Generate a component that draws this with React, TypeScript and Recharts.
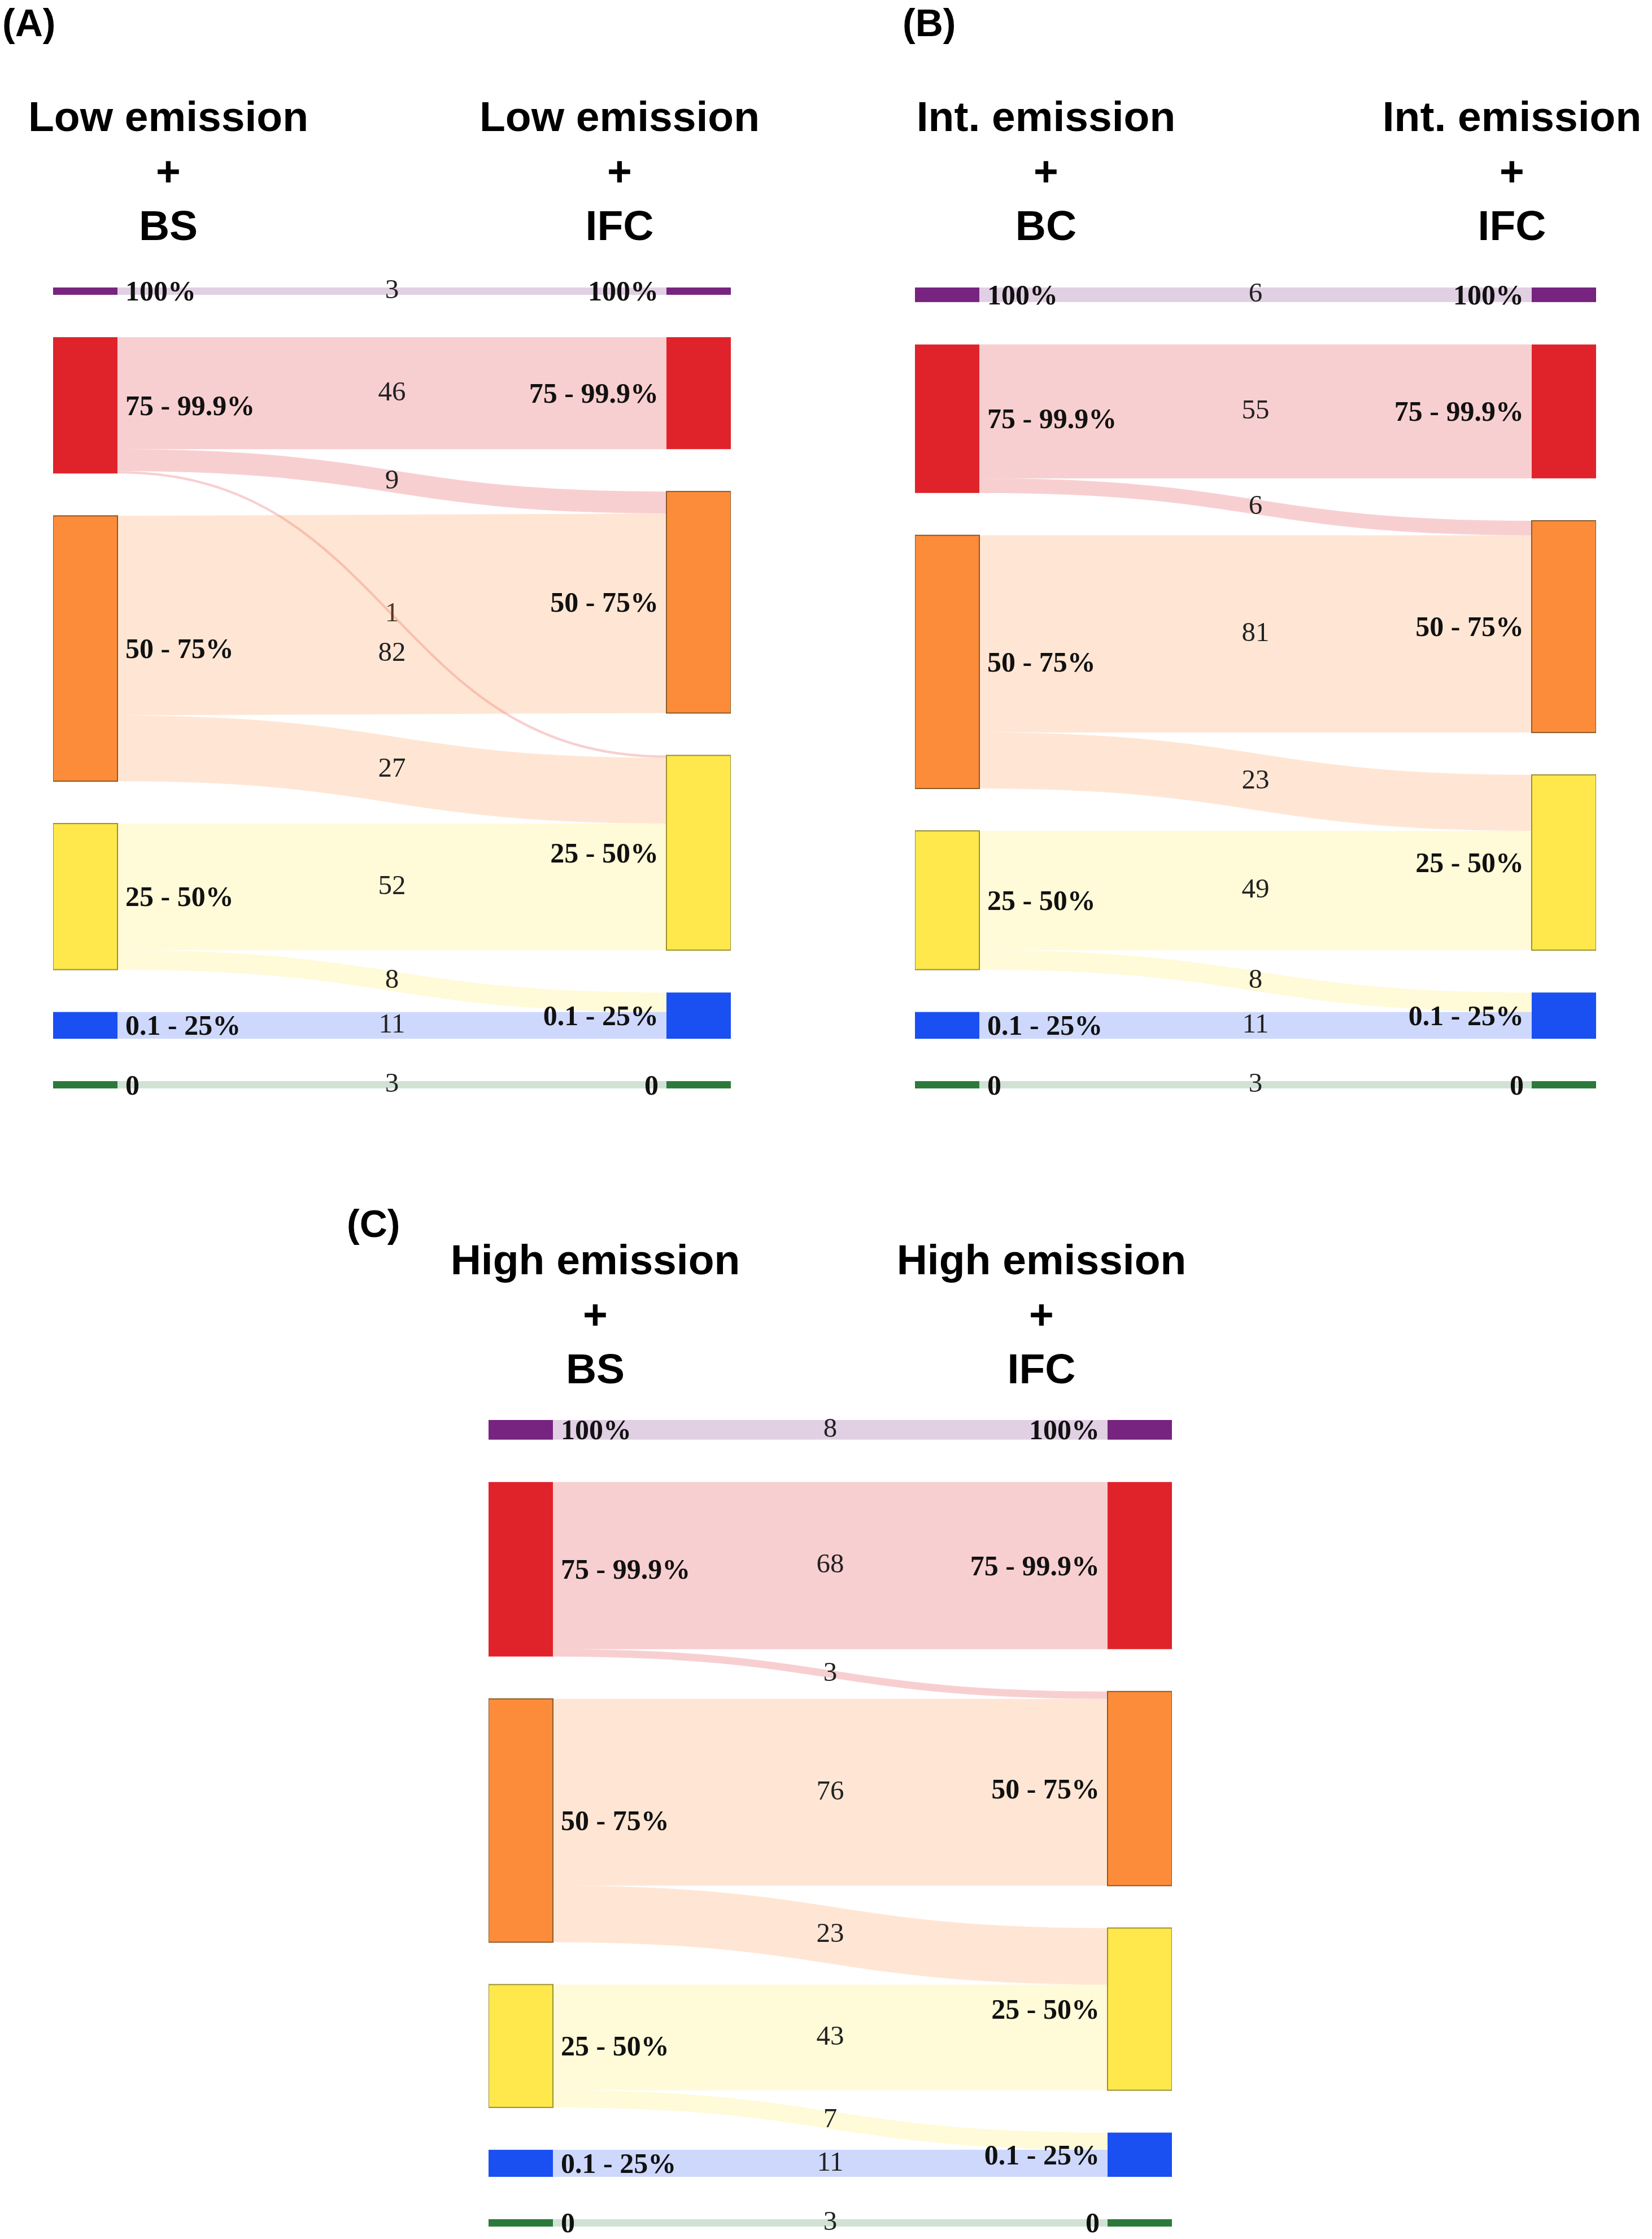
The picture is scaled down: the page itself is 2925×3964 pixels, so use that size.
import React from 'react';
import { Sankey } from 'recharts';

// emission-share classes, same order on both sides of every diagram
const CATEGORIES = ['100%', '75 - 99.9%', '50 - 75%', '25 - 50%', '0.1 - 25%', '0'];
const NODE_COLORS = ['#76247f', '#e0232b', '#fd8c3a', '#ffe84b', '#1a4ff2', '#2b7a3b'];
const NODE_BORDERS = ['none', 'none', '#8a5a2a', '#9a9030', 'none', 'none'];

// (A) Low emission: BS -> IFC
const FROM_A = [0, 1, 1, 1, 2, 2, 3, 3, 4, 5];
const TO_A = [0, 1, 2, 3, 2, 3, 3, 4, 4, 5];
const VALUES_A = [3, 46, 9, 1, 82, 27, 52, 8, 11, 3];

// (B) Int. emission: BC -> IFC
const FROM_B = [0, 1, 1, 2, 2, 3, 3, 4, 5];
const TO_B = [0, 1, 2, 2, 3, 3, 4, 4, 5];
const VALUES_B = [6, 55, 6, 81, 23, 49, 8, 11, 3];

// (C) High emission: BS -> IFC
const FROM_C = [0, 1, 1, 2, 2, 3, 3, 4, 5];
const TO_C = [0, 1, 2, 2, 3, 3, 4, 4, 5];
const VALUES_C = [8, 68, 3, 76, 23, 43, 7, 11, 3];

const SANS = '"Liberation Sans", Arial, sans-serif';
const SERIF = '"Liberation Serif", "Times New Roman", serif';
const PAD = 40;

const panels = [
  {
    letter: '(A)', letterX: 4, letterY: 40,
    titles: [['Low emission', '+', 'BS'], ['Low emission', '+', 'IFC']],
    titleX: [298, 1097], titleY: 232,
    from: FROM_A, to: TO_A, values: VALUES_A,
    box: { left: 94, top: 509, width: 1200, height: 1418 },
    nudge: { 4: 70 } as Record<number, number>,
  },
  {
    letter: '(B)', letterX: 1598, letterY: 40,
    titles: [['Int. emission', '+', 'BC'], ['Int. emission', '+', 'IFC']],
    titleX: [1852, 2677], titleY: 232,
    from: FROM_B, to: TO_B, values: VALUES_B,
    box: { left: 1620, top: 509, width: 1206, height: 1418 },
    nudge: {} as Record<number, number>,
  },
  {
    letter: '(C)', letterX: 614, letterY: 2166,
    titles: [['High emission', '+', 'BS'], ['High emission', '+', 'IFC']],
    titleX: [1054, 1844], titleY: 2256,
    from: FROM_C, to: TO_C, values: VALUES_C,
    box: { left: 865, top: 2514, width: 1210, height: 1428 },
    nudge: {} as Record<number, number>,
  },
];

const renderNode = (props: any) => {
  const { x, y, width, height, index } = props;
  const n = CATEGORIES.length;
  const cat = index % n;
  const isLeft = index < n;
  const border = NODE_BORDERS[cat];
  return (
    <g>
      <rect
        x={x}
        y={y}
        width={width}
        height={height}
        fill={NODE_COLORS[cat]}
        stroke={border}
        strokeWidth={border === 'none' ? 0 : 2}
      />
      <text
        x={isLeft ? x + width + 14 : x - 14}
        y={y + height / 2}
        textAnchor={isLeft ? 'start' : 'end'}
        dominantBaseline="central"
        fontFamily={SERIF}
        fontWeight="bold"
        fontSize={50}
        fill="#111"
      >
        {CATEGORIES[cat]}
      </text>
    </g>
  );
};

const makeLinkRenderer = (from: number[], values: number[], nudge: Record<number, number>) => (props: any) => {
  const { sourceX, targetX, sourceY, targetY, sourceControlX, targetControlX, linkWidth, index } = props;
  const color = NODE_COLORS[from[index]];
  return (
    <g>
      <path
        d={`M${sourceX},${sourceY} C${sourceControlX},${sourceY} ${targetControlX},${targetY} ${targetX},${targetY}`}
        fill="none"
        stroke={color}
        strokeOpacity={0.22}
        strokeWidth={Math.max(linkWidth, 1.5)}
      />
      <text
        x={(sourceX + targetX) / 2}
        y={(sourceY + targetY) / 2 - 4 + (nudge[index] || 0)}
        textAnchor="middle"
        dominantBaseline="central"
        fontFamily={SERIF}
        fontSize={49}
        fill="#222"
      >
        {values[index]}
      </text>
    </g>
  );
};

const App: React.FC = () => {
  return (
    <div style={{ position: 'absolute', left: 0, top: 0, width: 2925, height: 3964, background: '#fff' }}>
      {panels.map((p) => {
        const data = {
          nodes: [...CATEGORIES, ...CATEGORIES].map((name) => ({ name })),
          links: p.from.map((s, i) => ({ source: s, target: p.to[i] + CATEGORIES.length, value: p.values[i] })),
        };
        return (
          <div key={p.letter} style={{ position: 'absolute', left: p.box.left, top: p.box.top - PAD }}>
            <Sankey
              width={p.box.width}
              height={p.box.height + PAD * 2}
              data={data}
              nodeWidth={114}
              nodePadding={75}
              iterations={0}
              linkCurvature={0.5}
              margin={{ top: PAD, bottom: PAD, left: 0, right: 0 }}
              node={renderNode}
              link={makeLinkRenderer(p.from, p.values, p.nudge)}
            />
          </div>
        );
      })}
      <svg width={2925} height={3964} style={{ position: 'absolute', left: 0, top: 0, pointerEvents: 'none' }}>
        {panels.map((p) => (
          <g key={p.letter}>
            <text x={p.letterX} y={p.letterY} dominantBaseline="central" fontFamily={SANS} fontWeight="bold" fontSize={68} fill="#000">
              {p.letter}
            </text>
            {p.titles.map((lines, side) =>
              lines.map((line, row) => (
                <text
                  key={`${side}-${row}`}
                  x={p.titleX[side]}
                  y={p.titleY + row * 96.5}
                  textAnchor="middle"
                  fontFamily={SANS}
                  fontWeight="bold"
                  fontSize={75}
                  fill="#000"
                >
                  {line}
                </text>
              ))
            )}
          </g>
        ))}
      </svg>
    </div>
  );
};

export default App;
